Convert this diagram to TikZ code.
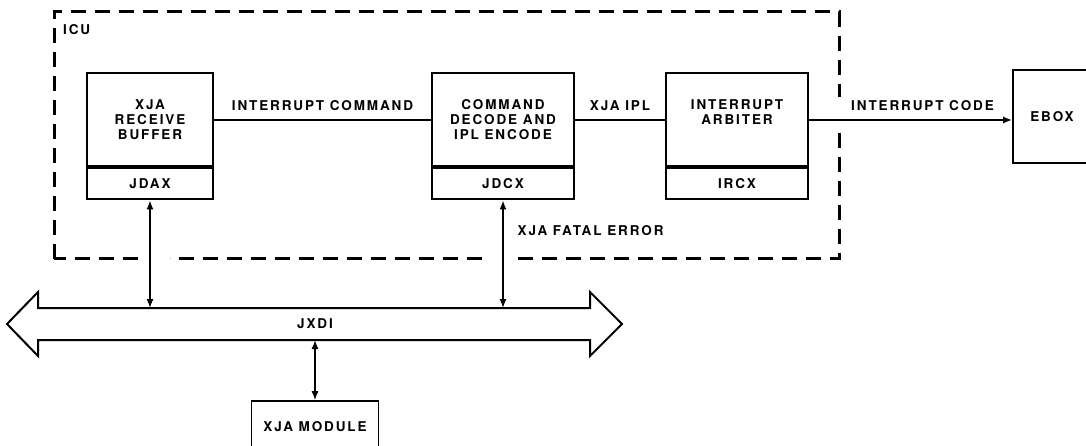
\documentclass[tikz,border=0pt]{standalone}
\usepackage{fontspec}
\setmainfont{TeX Gyre Heros}[LetterSpace=14]
\usetikzlibrary{calc}
\usetikzlibrary{positioning}
\usetikzlibrary{arrows.meta}

\begin{document}
\begin{tikzpicture}[x=1pt, y=-1pt,
            every node/.style={font=\bfseries\fontsize{13.5}{15}\selectfont, inner sep=0pt},
            unitbox/.style={draw, line width=2pt, minimum width=#1, minimum height=93pt, align=center},
            tagbox/.style={draw, line width=2pt, minimum width=#1, minimum height=31pt},
            modbox/.style={draw, line width=1.6pt, minimum width=127pt, minimum height=52pt},
            wire/.style={line width=1.3pt},
            link/.style={line width=1.3pt, {Latex[length=9pt,width=7pt]}-{Latex[length=9pt,width=7pt]}},
            iculine/.style={line width=3pt, dash pattern=on 15pt off 9pt}]
            \useasboundingbox (0,0) rectangle (1086,446);

            \draw (63,30) node[anchor=west] (icu) {ICU};

            \draw (150,120) node[unitbox=126pt] (rcvbuf) {XJA\\RECEIVE\\BUFFER};
            \draw (rcvbuf.south) node[tagbox=126pt, anchor=north] (jdax) {JDAX};
            \draw ($(rcvbuf) + (353,0)$) node[unitbox=142pt] (decode) {COMMAND\\DECODE AND\\IPL ENCODE};
            \draw (decode.south) node[tagbox=142pt, anchor=north] (jdcx) {JDCX};
            \draw ($(decode) + (234,0)$) node[unitbox=142pt] (arbiter) {INTERRUPT\\ARBITER\\\mbox{}};
            \draw (arbiter.south) node[tagbox=142pt, anchor=north] (ircx) {IRCX};
            \draw (1052,116.5) node[unitbox=78pt] (ebox) {EBOX};
            \draw (315,427) node[modbox] (xjamod) {XJA MODULE};

            \draw[line width=2pt] (38,308) -- (590,308) -- (590,292) -- (622,324) -- (590,356) -- (590,340)
                -- (38,340) -- (38,356) -- (7,324) -- (38,292) -- cycle;
            \draw (315,324) node (jxdi) {JXDI};

            \coordinate (busA) at (150,308);
            \coordinate (busB) at (503,308);
            \coordinate (busC) at (315,340);

            \draw[wire] (rcvbuf) -- (decode) node [midway, above=9pt] {INTERRUPT COMMAND};
            \draw[wire] (decode) -- (arbiter) node [midway, above=9pt] {XJA IPL};
            \draw[wire, -{Latex[length=9pt,width=7pt]}] (arbiter) -- (arbiter -| ebox.west)
                node [midway, above=9pt, xshift=12pt] {INTERRUPT CODE};

            \draw[link] (jdax) -- (busA);
            \draw[link] (jdcx) -- (busB) node [pos=0.28, right=14pt] {XJA FATAL ERROR};
            \draw[link] (busC) -- (xjamod);

            \draw[iculine] (54,259) -- (54,12) -- (839,12) -- (839,97);
            \draw[iculine] (839,133) -- (839,259) -- (513,259);
            \draw[iculine] (482,259) -- (170,259);
            \draw[iculine] (138,259) -- (54,259);
        \end{tikzpicture}
\end{document}
